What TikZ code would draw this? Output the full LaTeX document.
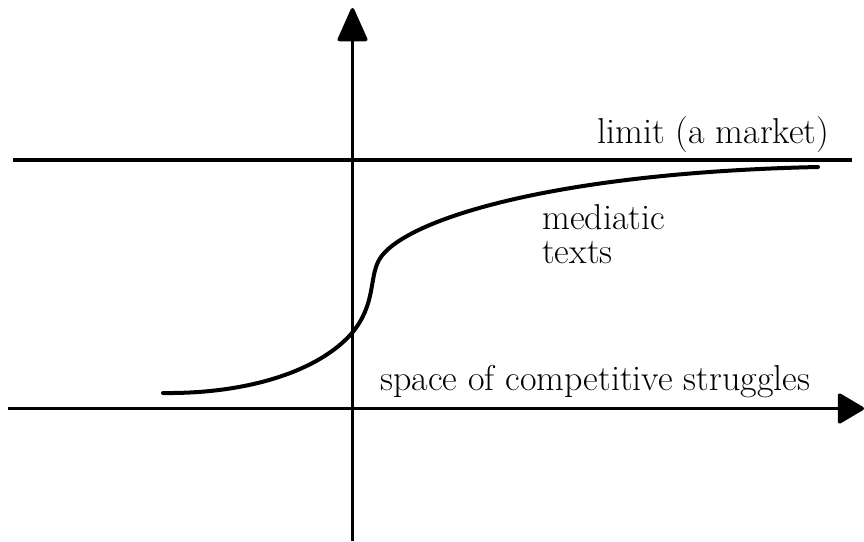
\documentclass[tikz,border=0pt]{standalone}
\usetikzlibrary{arrows.meta}
\begin{document}
\begin{tikzpicture}[x=1pt,y=-1pt,
  axis/.style={line width=3.6pt},
  lbl/.style={anchor=base west,inner sep=0pt,font=\fontsize{36}{43}\selectfont},
  curve/.style={line width=4pt,line cap=round}]
\useasboundingbox (0,0) rectangle (864,541);
\coordinate (ybot) at (352.5,541);
\coordinate (ytop) at (352.5,8);
\coordinate (xl) at (8,408.5);
\coordinate (xr) at (864,408.5);
\coordinate (ll) at (13,160);
\coordinate (lr) at (852,160);
\draw[axis,-{Triangle[length=36pt,width=31pt,round]}] (ybot) -- (ytop);
\draw[axis,-{Triangle[length=28pt,width=32pt,round]}] (xl) -- (xr);
\draw[axis] (ll) -- (lr);
\draw[curve] (163,393) .. controls (250,394) and (320,370) .. (352,333)
  .. controls (376,304) and (369,278) .. (379,260)
  .. controls (400,222) and (545,173) .. (818,167);
\node[lbl] (limit) at (597,143) {limit (a market)};
\node[lbl] (med) at (542,229) {mediatic};
\node[lbl] (texts) at (542,263) {texts};
\node[lbl] (space) at (380,390) {space of competitive struggles};
\end{tikzpicture}
\end{document}
